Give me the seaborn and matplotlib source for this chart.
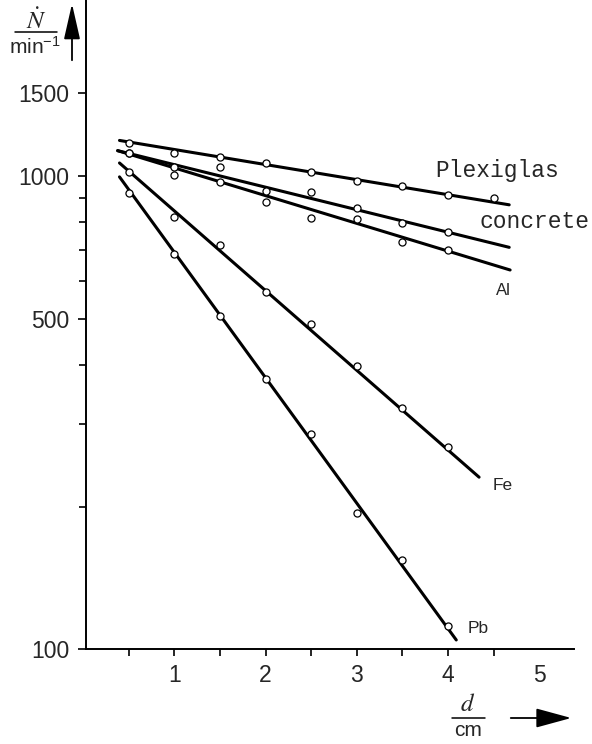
import pandas as pd
import seaborn as sns
import matplotlib.pyplot as plt
from matplotlib.lines import Line2D
from matplotlib.ticker import FixedLocator, NullFormatter

# measured counting rates (open circles), d in cm
d_cm = [0.5, 1.0, 1.5, 2.0, 2.5, 3.0, 3.5, 4.0]
d_plexi = [0.5, 1.0, 1.5, 2.0, 2.5, 3.0, 3.5, 4.0, 4.5]
n_plexiglas = [1176, 1120, 1098, 1070, 1021, 980, 955, 914, 899]
n_concrete = [1120, 1049, 1046, 933, 929, 857, 798, 764]
n_al = [1120, 1007, 975, 884, 816, 812, 728, 699]
n_fe = [1024, 821, 716, 570, 487, 397, 324, 268]
n_pb = [921, 686, 507, 373, 285, 194, 154, 112]

# straight fit lines (start / end as drawn)
materials = ["Plexiglas", "concrete", "Al", "Fe", "Pb"]
fit_x0 = [0.40, 0.38, 0.38, 0.40, 0.40]
fit_x1 = [4.67, 4.67, 4.68, 4.34, 4.09]
fit_y0 = [1192, 1134, 1134, 1068, 998]
fit_y1 = [871, 708, 634, 231, 104.5]

pts = pd.concat([
    pd.DataFrame({"d": d_plexi, "N": n_plexiglas, "material": "Plexiglas"}),
    pd.DataFrame({"d": d_cm, "N": n_concrete, "material": "concrete"}),
    pd.DataFrame({"d": d_cm, "N": n_al, "material": "Al"}),
    pd.DataFrame({"d": d_cm, "N": n_fe, "material": "Fe"}),
    pd.DataFrame({"d": d_cm, "N": n_pb, "material": "Pb"}),
], ignore_index=True)

fits = pd.DataFrame({
    "d": fit_x0 + fit_x1,
    "N": fit_y0 + fit_y1,
    "material": materials + materials,
})

sns.set_style("ticks")
plt.rcParams['font.family'] = ['Liberation Sans', 'DejaVu Sans']
plt.rcParams['mathtext.fontset'] = 'stix'

W, H = 592, 744
fig = plt.figure(figsize=(W / 100, H / 100), dpi=100)
ax = fig.add_axes([86 / W, (H - 649) / H, (574 - 86) / W, 649 / H])
ax.set_yscale('log')

sns.lineplot(data=fits, x="d", y="N", units="material", estimator=None,
             color="black", linewidth=2.2, ax=ax, legend=False, sort=True)
sns.scatterplot(data=pts, x="d", y="N", marker="o", s=26, color="white",
                edgecolor="black", linewidth=0.9, ax=ax, legend=False, zorder=3)

ax.set_xlim(0.033, 5.38)
ax.set_ylim(100, 2363)
ax.set_xlabel("")
ax.set_ylabel("")

# ticks
ax.yaxis.set_major_locator(FixedLocator([100, 500, 1000, 1500]))
ax.yaxis.set_minor_locator(FixedLocator([200, 300, 400, 600, 700, 800, 900]))
ax.yaxis.set_minor_formatter(NullFormatter())
ax.set_yticklabels(["100", "500", "1000", "1500"])
ax.xaxis.set_major_locator(FixedLocator([1, 2, 3, 4, 5]))
ax.xaxis.set_minor_locator(FixedLocator([0.5, 1.5, 2.5, 3.5, 4.5]))
ax.set_xticklabels(["1", "2", "3", "4", "5"])
ax.tick_params(axis='both', which='both', direction='out', width=1.2, color='black')
ax.tick_params(axis='y', which='major', length=6, pad=6, labelsize=16.5)
ax.tick_params(axis='y', which='minor', length=5)
ax.tick_params(axis='x', which='both', length=5, pad=6, labelsize=16.5)
ax.xaxis.get_major_ticks()[-1].tick1line.set_visible(False)

sns.despine(ax=ax)
for s in ["left", "bottom"]:
    ax.spines[s].set_linewidth(1.4)
    ax.spines[s].set_color("black")

# curve labels
ax.text(3.86, 998, "Plexiglas", family=['Liberation Mono', 'DejaVu Sans Mono'], fontsize=16.5, va='baseline')
ax.text(4.34, 778, "concrete", family=['Liberation Mono', 'DejaVu Sans Mono'], fontsize=16.5, va='baseline')
ax.text(4.52, 561, "Al", fontsize=12, va='baseline')
ax.text(4.49, 217, "Fe", fontsize=12.5, va='baseline')
ax.text(4.21, 108, "Pb", fontsize=12.5, va='baseline')

# y axis label as fraction with arrow
def fx(px):
    return px / W

def fy(py):
    return 1 - py / H

fig.text(fx(36), fy(21), r"$\dot{N}$", fontsize=18, ha='center', va='center')
fig.add_artist(Line2D([fx(15), fx(57)], [fy(32), fy(32)], color='black', lw=1.1))
fig.text(fx(35), fy(47), r"min$^{\mathregular{-1}}$", fontsize=15, ha='center', va='center')
ax.annotate("", xy=(72, H - 1), xytext=(72, H - 63), xycoords='figure pixels',
            textcoords='figure pixels',
            arrowprops=dict(arrowstyle="-|>,head_length=1.1,head_width=0.25",
                            color='black', lw=1.3, mutation_scale=20))

# x axis label as fraction with arrow
fig.text(fx(468), fy(704), r"$d$", fontsize=18, ha='center', va='center')
fig.add_artist(Line2D([fx(452), fx(485)], [fy(718), fy(718)], color='black', lw=1.1))
fig.text(fx(468), fy(731), "cm", fontsize=15, ha='center', va='center')
ax.annotate("", xy=(574, H - 718), xytext=(508, H - 718), xycoords='figure pixels',
            textcoords='figure pixels',
            arrowprops=dict(arrowstyle="-|>,head_length=1.1,head_width=0.3",
                            color='black', lw=1.3, mutation_scale=20))

fig.savefig("out.png", dpi=100)
